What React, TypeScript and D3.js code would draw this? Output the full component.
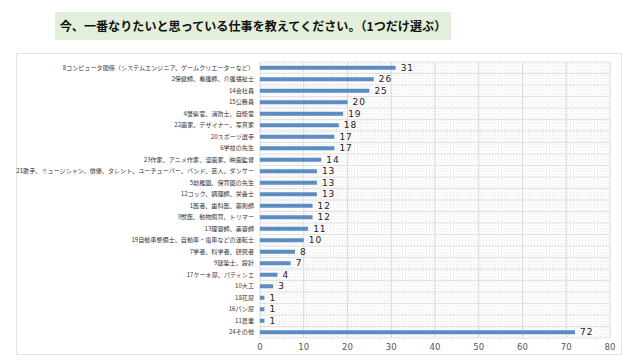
import * as d3 from 'd3'

const categories = [
  '8コンピュータ関係（システムエンジニア、ゲームクリエーターなど）',
  '2保健師、看護師、介護福祉士',
  '14会社員',
  '15公務員',
  '4警察官、消防士、自衛官',
  '22画家、デザイナー、写真家',
  '20スポーツ選手',
  '6学校の先生',
  '23作家、アニメ作家、漫画家、映画監督',
  '21歌手、ミュージシャン、俳優、タレント、ユーチューバー、バンド、芸人、ダンサー',
  '5幼稚園、保育園の先生',
  '12コック、調理師、栄養士',
  '1医者、歯科医、薬剤師',
  '3獣医、動物飼育、トリマー',
  '13理容師、美容師',
  '19自動車整備士、自動車・電車などの運転士',
  '7学者、科学者、研究者',
  '9建築士、設計',
  '17ケーキ屋、パティシエ',
  '10大工',
  '18花屋',
  '16パン屋',
  '11農業',
  '24その他',
]
const counts = [31, 26, 25, 20, 19, 18, 17, 17, 14, 13, 13, 13, 12, 12, 11, 10, 8, 7, 4, 3, 1, 1, 1, 72]
const xTicks = [0, 10, 20, 30, 40, 50, 60, 70, 80]
const title = '今、一番なりたいと思っている仕事を教えてください。（1つだけ選ぶ）'

const W = 640
const H = 360
const plot = { left: 260, right: 610, top: 62, bottom: 338 }
const font = '"Noto Sans CJK JP", "Noto Sans", sans-serif'
const numFont = '"DejaVu Sans", "Liberation Sans", sans-serif'

export default function App() {
  const x = d3.scaleLinear().domain([0, 80]).range([plot.left, plot.right])
  const y = d3.scaleBand<string>().domain(categories).range([plot.top, plot.bottom])
  const barH = 4

  return (
    <svg width={W} height={H} style={{ position: 'absolute', left: 0, top: 0, background: '#fff' }}>
      <defs>
        <pattern id="hatch" width="3" height="3" patternUnits="userSpaceOnUse">
          <rect width="3" height="3" fill="#ffffff" />
          <rect width="1" height="1" fill="#e6e6e6" />
          <rect x="1.5" y="1.5" width="1" height="1" fill="#ececec" />
        </pattern>
      </defs>

      {/* title */}
      <rect x={55} y={12} width={396} height={28} fill="#e2efda" />
      <text x={253} y={30.5} textAnchor="middle" fontFamily={font} fontSize={12.1} fontWeight="bold" fill="#111">
        {title}
      </text>

      {/* chart frame */}
      <rect x={16.5} y={53.5} width={605} height={301} fill="#fff" stroke="#e3e3e3" />

      {/* plot area */}
      <rect x={plot.left} y={plot.top} width={plot.right - plot.left} height={plot.bottom - plot.top} fill="url(#hatch)" />

      {/* gridlines */}
      {xTicks.map(t => (
        <line key={'v' + t} x1={x(t)} x2={x(t)} y1={plot.top} y2={plot.bottom} stroke="#d9d9d9" strokeWidth={1} />
      ))}
      {categories.map(c => (
        <line key={'h' + c} x1={plot.left} x2={plot.right} y1={y(c)!} y2={y(c)!} stroke="#e2e2e2" strokeWidth={1} />
      ))}
      <line x1={plot.left} x2={plot.right} y1={plot.bottom} y2={plot.bottom} stroke="#e2e2e2" />

      {/* bars */}
      {categories.map((c, i) => {
        const cy = y(c)! + y.bandwidth() / 2
        return (
          <g key={c}>
            <rect x={x(0)} y={cy - barH / 2} width={x(counts[i]) - x(0)} height={barH} fill="#5b8cc2" />
            <text x={x(counts[i]) + 5} y={cy + 3.2} fontFamily={numFont} fontSize={9} letterSpacing={1} fill="#222">
              {counts[i]}
            </text>
            <text x={254} y={cy + 2.2} textAnchor="end" fontFamily={font} fontSize={6.1} fill="#333">
              {c}
            </text>
          </g>
        )
      })}

      {/* x tick labels */}
      {xTicks.map(t => (
        <text key={'t' + t} x={x(t)} y={350} textAnchor="middle" fontFamily={numFont} fontSize={8.5} fill="#555">
          {t}
        </text>
      ))}
    </svg>
  )
}
